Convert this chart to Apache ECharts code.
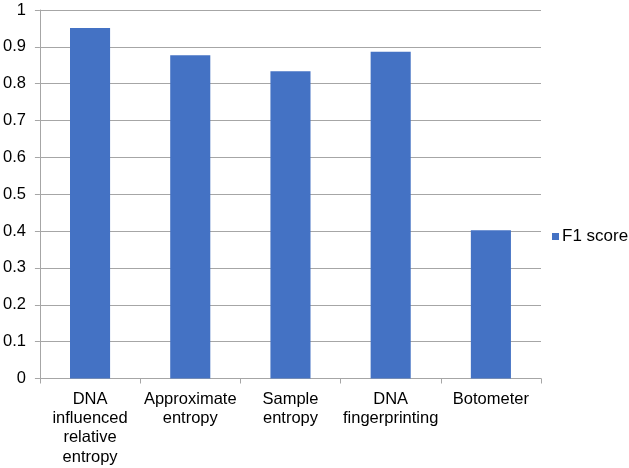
<!DOCTYPE html>
<html><head><meta charset="utf-8">
<script src="https://cdn.jsdelivr.net/npm/echarts@6/dist/echarts.min.js"></script>
<style>html,body{margin:0;padding:0;background:#fff}#c{width:629px;height:468px}</style>
</head><body><div id="c"></div>
<script>
const categories = ["DNA\ninfluenced\nrelative\nentropy", "Approximate\nentropy", "Sample\nentropy", "DNA\nfingerprinting", "Botometer"];
const f1Scores = [0.951, 0.877, 0.834, 0.887, 0.402];
const seriesName = "F1 score";
const yTicks = {min: 0, max: 1, interval: 0.1};

const chart = echarts.init(document.getElementById('c'), null, {renderer: 'canvas'});
const font = 'Liberation Sans, Arial, sans-serif';
chart.setOption({
  animation: false,
  textStyle: {fontFamily: font},
  grid: {left: 38, right: 88, top: 10, bottom: 89.5, containLabel: false},
  legend: {
    orient: 'vertical', left: 547, top: 223,
    itemWidth: 7, itemHeight: 7, itemGap: 4,
    icon: 'rect',
    textStyle: {fontSize: 17, color: '#000', fontFamily: font, padding: [0,0,0,-2]},
    data: [seriesName]
  },
  xAxis: {
    type: 'category', data: categories,
    axisLine: {lineStyle: {color: '#a6a6a6', width: 1}},
    axisTick: {show: true, length: 5, lineStyle: {color: '#a6a6a6'}},
    axisLabel: {fontSize: 16.5, color: '#000', lineHeight: 19.3, margin: 11, interval: 0, fontFamily: font}
  },
  yAxis: {
    type: 'value', min: yTicks.min, max: yTicks.max, interval: yTicks.interval,
    axisLine: {show: true, lineStyle: {color: '#a6a6a6', width: 1}},
    axisTick: {show: true, length: 5, lineStyle: {color: '#a6a6a6'}},
    splitLine: {lineStyle: {color: '#a6a6a6', width: 1}},
    axisLabel: {fontSize: 16.5, color: '#000', margin: 14, fontFamily: font,
      formatter: v => String(Math.round(v*10)/10)}
  },
  series: [{
    name: seriesName, type: 'bar', data: f1Scores,
    barWidth: '40%',
    itemStyle: {color: '#4472c4'}
  }]
});
</script></body></html>
